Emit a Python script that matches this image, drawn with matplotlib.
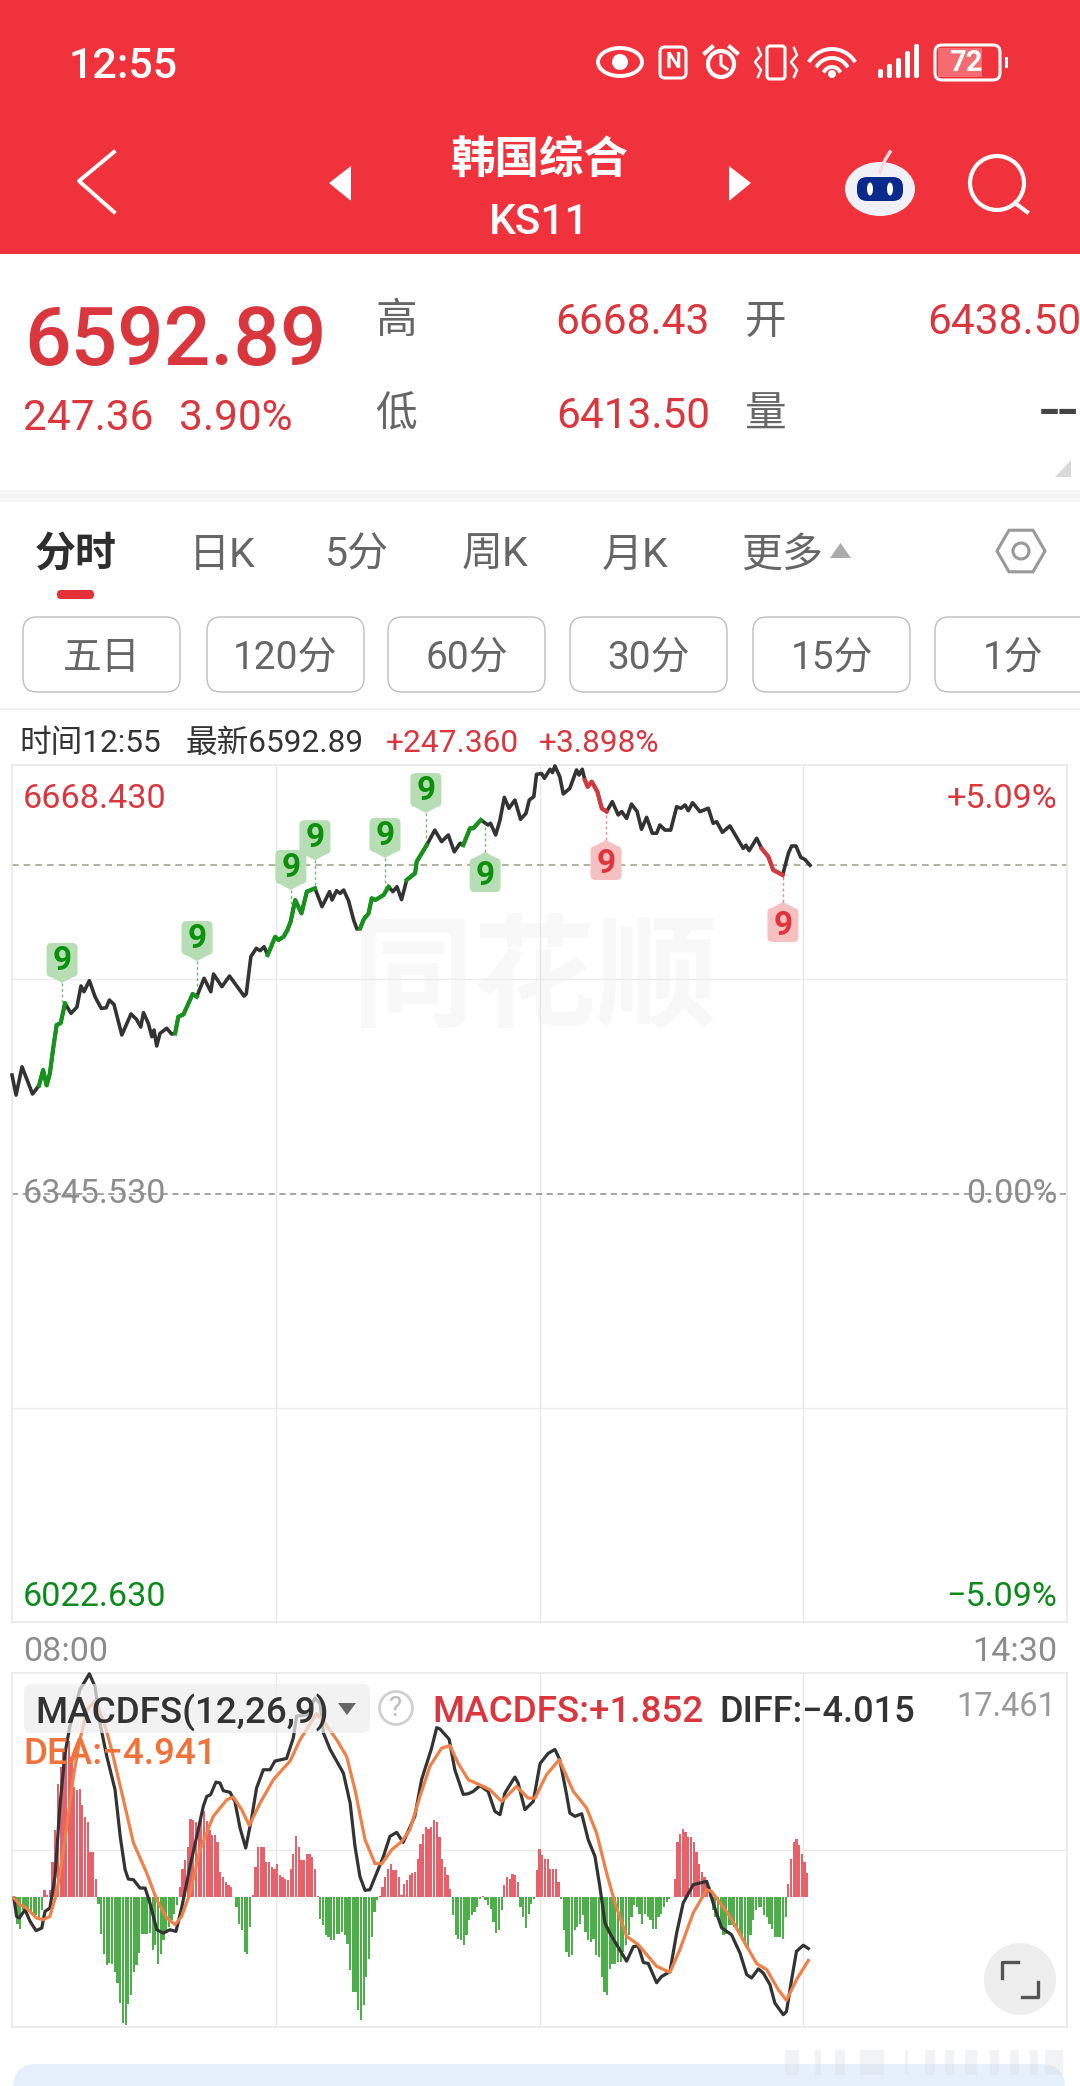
import numpy as np
import matplotlib
matplotlib.use("Agg")
from matplotlib import pyplot as plt
from matplotlib.patches import Circle, Ellipse, FancyBboxPatch, Polygon, Rectangle

plt.rcParams['font.family'] = ['Roboto', 'Noto Sans CJK SC', 'DejaVu Sans']

W, H = 1080, 2086

RED = '#D9363E'
GREEN = '#0A8A1A'
HEADER = '#F0323C'
GRAY_TXT = '#666666'

# limits of the two panes
price_high = 6668.43
price_low = 6022.63
price_base = 6345.53
price_last = 6592.89
macd_top = 17.461
macd_bottom = -10.13

# minutes after 08:00 and index value
price_min = [0, 1.5, 3.7, 7.6, 10, 11.5, 12.8, 14, 15.3, 16.5, 18, 19.6, 21.8, 24, 25.5, 26.6, 28.6, 30.7, 33, 34.8,
             36, 37.7, 40.6, 44, 46, 47.6, 48.6, 50.4, 51.7, 52.5, 53.5, 54.7, 57.2, 59, 60.3, 61.5, 63.4, 66.8, 68.3, 71,
             73.5, 74.5, 77.6, 80.4, 85.8, 86.6, 88.3, 90.3, 91.7, 93.2, 94.5, 97.3, 98.5, 100.4, 101.8, 103, 104.7, 107, 109, 112,
             114.6, 117.4, 118.3, 120, 121.3, 122.6, 124.4, 126.3, 127.5, 128.7, 130, 131.8, 133, 134.3, 137.4, 139.2, 140.8, 142.3, 144, 145.9,
             149, 149.6, 153.3, 156.3, 158.8, 161.3, 163.5, 165.6, 166.8, 169.3, 170.5, 173.3, 176, 176.9, 178.8, 180.4, 182, 183.7, 185.9, 188,
             190, 191.2, 192.9, 193.9, 195.8, 196.8, 198.9, 199.8, 200.7, 202.5, 203.8, 206.2, 208.7, 209.6, 210.8, 211.8, 212.8, 214.3, 216.4, 218,
             219.8, 221.9, 224.1, 225.4, 227.2, 229, 231.1, 232.7, 234.6, 236.7, 238.3, 239.5, 241.4, 243.5, 245.7, 247.3, 248.8, 250, 251.6, 254.3,
             257.4, 259.2, 260.5, 262.6, 265.4, 270.3, 271.3, 272.5, 275.3, 277.1, 279.6, 281.4, 284.9, 287, 288.2, 289.8, 291.6, 293.1, 295]
price_val = [6434.8, 6419.7, 6441, 6420.5, 6427, 6438.6, 6427, 6436, 6456, 6472.5, 6474, 6488.8, 6481.3, 6486, 6501.9, 6497.6, 6505.9, 6493.8, 6485, 6485.5,
             6491.3, 6488, 6465, 6480.8, 6476.8, 6471, 6481.8, 6473.7, 6463.7, 6468.7, 6456.7, 6466.2, 6470, 6465.7, 6466.2, 6478.8, 6480.5, 6495.9, 6493.8, 6507.7,
             6497.6, 6510.9, 6501.4, 6509.4, 6494.3, 6496, 6524, 6530.3, 6528.5, 6531.5, 6525.2, 6539, 6536.6, 6539, 6544, 6550.4, 6566.7, 6556.6, 6573, 6575.5,
             6561.7, 6573, 6566.7, 6573.7, 6571.7, 6574.2, 6566.2, 6551.6, 6544.8, 6545.3, 6552, 6556.6, 6568, 6566.7, 6570.5, 6576.7, 6573, 6576.7, 6567, 6581.8,
             6586.8, 6595.6, 6608, 6619.4, 6610.7, 6615.7, 6603, 6609.4, 6608, 6620.7, 6620.7, 6627, 6623.2, 6624.5, 6615.7, 6627, 6644, 6635.8, 6642, 6627.5,
             6632, 6642, 6644.6, 6661.4, 6662, 6658.4, 6665.2, 6662.7, 6667.7, 6659.6, 6646.6, 6650.8, 6664.7, 6660.9, 6665.2, 6657, 6652, 6655.9, 6648.3, 6635.8,
             6633.3, 6640.8, 6630.8, 6633.3, 6628.2, 6639, 6633.3, 6620, 6629, 6617, 6617, 6623.2, 6619.4, 6619.4, 6637, 6635.8, 6638.3, 6634, 6640, 6633.3,
             6635.8, 6624.5, 6625.7, 6617.7, 6622.5, 6605.6, 6608, 6603.9, 6613.2, 6605.6, 6599.3, 6589.3, 6585.5, 6601.9, 6607.4, 6607.4, 6598.8, 6597.3, 6592.89]

# stretches of the line drawn in colour (start minute, end minute)
green_runs = [(10, 19.6), (60.3, 68.3), (94.5, 112), (128.7, 139.2), (145.9, 153.3), (166.8, 173.3)]
red_runs = [(211.8, 219.8), (277.1, 284.9)]

# the "9" signals: minute on the line, price level where the badge sits
buy_min = [18.5, 68.4, 103.1, 112, 137.9, 153, 174.9]
buy_lvl = [6521.5, 6538, 6591.6, 6614, 6615.7, 6649.6, 6585.5]
sell_min = [219.6, 285]
sell_lvl = [6594.6, 6547.9]

macd_hist = [0, -0.26, -2.13, -2.47, -1.04, -0.91, -0.91, -1.17, -1.30, -1.43,
             -1.69, -1.04, 0.57, 0.13, 0.57, 2.73, 5.19, 8.83, 10.13, 11.30,
             11.95, 12.13, 10.91, 8.57, 8.31, 8.44, 7.14, 6.23, 5.84, 3.51,
             3.51, 1.43, -0.52, -2.91, -4.42, -5.32, -5.12, -5.19, -5.84, -6.70,
             -8.26, -9.82, -10.0, -8.31, -7.66, -5.84, -5.32, -4.36, -2.86, -2.86,
             -2.86, -2.81, -4.16, -3.77, -5.19, -4.42, -3.38, -2.60, -2.34, -1.82,
             -1.30, -0.65, 0.78, 2.21, 2.86, 3.90, 6.10, 5.97, 5.84, 5.84,
             6.23, 6.70, 5.92, 5.19, 4.81, 4.81, 4.29, 1.95, 1.56, 1.17,
             0.91, 0.78, 0, -0.78, -2.08, -2.60, -4.29, -4.47, -2.34, 0.13,
             2.34, 3.90, 3.90, 3.90, 2.73, 2.73, 2.34, 2.21, 2.60, 1.69,
             1.56, 1.43, 1.30, 2.21, 3.38, 4.73, 3.90, 2.86, 2.91, 3.38,
             3.32, 3.12, 2.21, 0.08, -1.69, -2.21, -2.99, -3.12, -3.38, -3.32,
             -2.86, -2.86, -2.73, -2.99, -3.64, -5.66, -7.40, -7.40, -8.83, -9.56,
             -8.44, -6.23, -4.81, -3.12, -1.17, -0.21, 0.08, 0.78, 1.56, 2.21,
             2.60, 2.08, 2.08, 1.56, 0.13, 1.04, 1.30, 1.69, 1.87, 1.95,
             2.99, 4.16, 4.94, 5.45, 5.32, 5.45, 5.97, 5.84, 4.68, 2.99,
             2.34, 1.69, 0.65, -1.43, -2.99, -3.25, -3.38, -3.77, -2.99, -1.82,
             -1.43, -1.17, -0.78, -0.13, 0.05, -0.26, -0.65, -0.91, -1.95, -2.81,
             -2.60, -1.04, 0.91, 1.56, 1.43, 1.82, 1.69, 1.17, -0.78, -1.56,
             -2.39, -1.30, -0.52, -0.13, 2.08, 3.77, 3.25, 2.99, 2.99, 2.21,
             2.21, 2.21, 1.17, -0.13, -2.60, -4.29, -4.68, -4.55, -2.60, -2.34,
             -2.08, -1.43, -2.73, -3.38, -3.51, -3.25, -4.55, -4.68, -6.23, -7.40,
             -7.66, -5.58, -5.19, -5.19, -5.06, -5.06, -4.29, -3.77, -2.99, -1.56,
             -0.65, -0.78, -1.30, -2.08, -1.30, -1.56, -1.82, -2.47, -2.47, -1.56,
             -1.30, -0.78, -0.39, -0.13, 0, 1.43, 4.29, 4.94, 5.32, 5.06,
             4.68, 4.68, 4.29, 3.51, 2.60, 1.95, 1.56, 1.30, 0.78, -1.04,
             -1.56, -1.82, -2.34, -2.99, -2.86, -2.21, -2.21, -2.34, -2.47, -2.73,
             -3.12, -3.51, -3.90, -2.99, -1.82, -1.04, -0.78, -0.78, -1.43, -1.56,
             -2.08, -2.47, -3.12, -3.12, -3.12, -3.25, -1.56, 1.04, 2.99, 4.29,
             4.55, 4.03, 3.38, 2.73, 1.85]

diff_min = [0.7, 1.7, 2.7, 4.8, 6.7, 8.9, 11, 12.2, 14, 15.9, 17.7, 19.6, 21.4, 25.1, 28.6, 30.7, 32.5, 35, 38.1, 40,
            41.8, 43, 44.9, 47.3, 49.2, 51, 53.5, 55.9, 58.4, 60.6, 62.7, 65.8, 68.3, 70.7, 72, 73.4, 75.4, 76.9, 78.1, 80.6,
            82.4, 84.3, 86.4, 88.6, 90.4, 92.9, 95.4, 97.2, 101.5, 104, 105.2, 108.9, 112, 113.9, 115.1, 117.6, 122.5, 125, 126.8, 128.6,
            130.5, 132.3, 134.8, 137.3, 139.7, 142.2, 144.6, 148.9, 151.4, 153.3, 155.1, 157, 158.2, 161.6, 163.7, 166.8, 168.7, 170.5, 173, 176,
            178.5, 180.4, 182.2, 185.9, 187.1, 189.6, 192.7, 195.2, 198.2, 200.7, 202.5, 205, 206.2, 208.1, 210.6, 213, 215.5, 217.3, 219.2, 221,
            223.5, 227.2, 229.7, 231.5, 233.4, 235.2, 238.3, 240.1, 243.2, 245.7, 248.1, 251.8, 256.8, 259.2, 262.3, 266, 269.1, 271.6, 273.4, 275.9,
            277.7, 280.2, 282, 285.1, 286.3, 288.2, 290, 292.5, 294.4]
diff_val = [-0.08, -1.51, -1.64, -0.99, -1.90, -2.62, -2.42, -1.12, -0.86, 1.61, 7.06, 11.2, 13.3, 16.16, 17.4, 16.4, 13.56, 11.0, 8.36, 4.73,
            2.13, 1.40, 1.35, 0.70, 0.70, -0.47, -2.55, -2.81, -2.55, -2.68, -0.86, 2.39, 4.73, 7.06, 7.84, 7.97, 8.96, 8.88, 8.29, 8.16,
            7.45, 5.38, 3.82, 6.16, 8.49, 9.92, 9.92, 10.6, 10.8, 12.4, 14.1, 14.2, 15.5, 15.1, 12.8, 11.5, 9.66, 7.32, 3.95, 1.61,
            0.52, 0.57, 1.87, 3.16, 4.73, 5.04, 4.26, 6.29, 9.14, 10.4, 11.6, 13.2, 13.1, 12.3, 9.92, 8.0, 8.05, 8.23, 8.68, 8.23,
            6.68, 6.42, 8.1, 9.35, 8.88, 6.81, 7.45, 10.4, 11.2, 11.5, 10.7, 8.0, 6.55, 6.29, 6.49, 4.47, 3.17, 0.83, -2.03, -2.81,
            -3.71, -5.0, -3.86, -3.81, -5.1, -5.18, -6.68, -6.2, -5.82, -2.81, -0.47, 0.96, 1.22, -0.47, -2.4, -2.94, -4.36, -6.05, -6.31, -5.6,
            -5.92, -6.83, -8.26, -9.17, -8.92, -6.44, -4.23, -3.76, -4.015]

dea_min = [0.7, 3, 5.4, 9.1, 11.6, 14, 16.5, 19.6, 22.7, 25.1, 27.8, 30.7, 33.8, 36.8, 41.2, 44.9, 49.8, 53.5, 57.2, 60.3,
           62.7, 65.8, 69.5, 74.4, 79.4, 81.8, 84.9, 87.7, 91.7, 96.6, 102.8, 106.5, 112.6, 115.7, 120, 123.7, 126.8, 130.5, 134.2, 136.7,
           140.4, 144.1, 147.1, 150.8, 154.5, 158.8, 161.9, 165, 168.7, 173.6, 176.7, 181, 186.5, 190.8, 193.3, 197.6, 202.3, 207.5, 212.4, 216.1,
           219.8, 222.9, 227.2, 231.5, 238.3, 243.2, 246.9, 251.8, 256.8, 258.6, 265.4, 270.9, 275.3, 279, 283.3, 286.3, 290, 294.4]
dea_val = [-0.08, -0.60, -0.86, -1.64, -1.77, -1.51, 0.31, 4.47, 9.4, 12.26, 14.6, 15.3, 13.8, 11.5, 7.58, 4.21, 1.87, -0.21, -1.64, -2.15,
           -1.51, 0.31, 3.69, 6.29, 7.58, 7.79, 6.81, 5.58, 7.32, 9.14, 10.6, 12.26, 14.3, 13.56, 12.26, 10.96, 8.36, 4.47, 2.6, 2.6,
           3.69, 4.34, 5.25, 7.84, 10.2, 11.6, 11.8, 10.4, 9.14, 8.68, 8.36, 7.45, 8.62, 7.71, 7.71, 9.53, 10.7, 8.23, 6.94, 4.99,
           1.87, -0.47, -3.06, -3.71, -5.4, -5.87, -4.1, -1.25, 0.57, 0.44, -1.51, -3.58, -5.19, -5.66, -7.23, -8.05, -6.44, -4.941]

tab_labels = ['日K', '5分', '周K', '月K', '更多']
tab_x = [222, 357, 495, 635, 782]
period_labels = ['五日', '120分', '60分', '30分', '15分', '1分']
period_left = [23, 207, 388, 570, 753, 935]
blur_left = [785, 815, 835, 860, 905, 925, 945, 965, 990, 1010, 1030, 1045]
blur_width = [14, 6, 10, 24, 3, 10, 9, 12, 9, 9, 8, 18]


def put(ax, x, y, s, **kw):
    # va=center sits a little high with these fonts, so push it down
    kw.setdefault('va', 'center')
    return ax.text(x, y + 4, s, **kw)


def add_pane(fig, left, top, right, bottom):
    ax = fig.add_axes([left / W, 1 - bottom / H, (right - left) / W, (bottom - top) / H])
    ax.patch.set_alpha(0)
    ax.set_xlim(0, 390)
    ax.set_xticks([])
    ax.set_yticks([])
    for s in ax.spines.values():
        s.set_color('#E9E9E9')
        s.set_linewidth(1.2)
    for t in [97.5, 195, 292.5]:
        ax.axvline(t, color='#E6E6E6', lw=1.0, zorder=1)
    return ax


def rounded(ax, x0, y0, x1, y1, r, **kw):
    ax.add_patch(FancyBboxPatch((x0 + r, y0 + r), x1 - x0 - 2 * r, y1 - y0 - 2 * r,
                                boxstyle=f"round,pad={r},rounding_size={r}", **kw))


def draw_status_icons(ax):
    # eye
    ax.add_patch(Ellipse((620, 62), 44, 28, fc='none', ec='white', lw=2.8))
    ax.add_patch(Circle((620, 62), 8, fc='white', ec='none'))
    # nfc
    rounded(ax, 660, 47, 686, 78, 5, fc='none', ec='white', lw=2.2)
    put(ax, 673, 58, 'N', color='white', fontsize=16, fontweight='bold', ha='center')
    # alarm
    ax.add_patch(Circle((721, 64), 13, fc='none', ec='white', lw=3))
    ax.plot([721, 721, 727], [56, 65, 69], color='white', lw=2.2)
    ax.plot([705, 712], [53, 47], color='white', lw=3)
    ax.plot([730, 737], [47, 53], color='white', lw=3)
    # vibrate
    rounded(ax, 767, 46, 785, 79, 3, fc='none', ec='white', lw=2.2)
    for x in [758, 794]:
        ax.plot([x, x + 3, x - 3, x + 3, x], [48, 55, 62, 70, 77], color='white', lw=1.8)
    # wifi
    th = np.radians(np.linspace(215, 325, 30))
    for r in [9, 18, 27]:
        ax.plot(832 + r * np.cos(th), 76 + r * np.sin(th), color='white', lw=2.8)
    ax.add_patch(Circle((832, 74), 4, fc='white', ec='none'))
    # signal
    for i, h in enumerate([9, 14, 20, 27, 34]):
        rounded(ax, 878 + i * 9, 78 - h, 883 + i * 9, 78, 2, fc='white', ec='none')
    # battery
    rounded(ax, 935, 45, 1000, 80, 7, fc='none', ec='white', lw=2.2)
    ax.add_patch(Rectangle((938, 48), 44, 29, fc='white', alpha=0.28, ec='none'))
    ax.add_patch(Rectangle((1005, 57), 2.5, 11, fc='white', ec='none'))
    put(ax, 966, 59, '72', color='white', fontsize=21, fontweight='bold', ha='center')


def draw_chrome(ax):
    ax.add_patch(Rectangle((0, 0), W, 254, fc=HEADER, ec='none'))
    put(ax, 69, 63, '12:55', color='white', fontsize=31, fontweight='medium')
    draw_status_icons(ax)

    ax.plot([114, 79, 114], [152, 181, 212], color='white', lw=2.8)
    ax.add_patch(Polygon([(329, 183), (351, 166), (351, 201)], fc='white', ec='none'))
    ax.add_patch(Polygon([(751, 183), (729, 166), (729, 201)], fc='white', ec='none'))
    put(ax, 539, 157, '韩国综合', color='white', fontsize=32, fontweight='bold', ha='center')
    put(ax, 539, 218, 'KS11', color='white', fontsize=30.5, fontweight='medium', ha='center')

    # robot
    ax.plot([880, 885, 890], [172, 160, 152], color='#F6D9DC', lw=2.5)
    ax.add_patch(Ellipse((880, 189), 70, 54, fc='#F0F1F6', ec='none'))
    rounded(ax, 857, 177, 903, 201, 10, fc='#0A2A8C', ec='none')
    ax.add_patch(Ellipse((870, 189), 6, 13, fc='white', ec='none'))
    ax.add_patch(Ellipse((890, 189), 6, 13, fc='white', ec='none'))
    # search
    ax.add_patch(Circle((997, 183), 27, fc='none', ec='white', lw=3))
    ax.plot([1015, 1027], [203, 212], color='white', lw=3)

    # quote block
    put(ax, 24, 339, '6592.89', color=RED, fontsize=59, fontweight='medium')
    put(ax, 23, 415, '247.36', color=RED, fontsize=30.5)
    put(ax, 179, 415, '3.90%', color=RED, fontsize=30.5)
    put(ax, 396, 318, '高', color=GRAY_TXT, fontsize=30, ha='center')
    put(ax, 396, 411, '低', color=GRAY_TXT, fontsize=30, ha='center')
    put(ax, 766, 318, '开', color=GRAY_TXT, fontsize=30, ha='center')
    put(ax, 766, 411, '量', color=GRAY_TXT, fontsize=30, ha='center')
    put(ax, 710, 318, '6668.43', color=RED, fontsize=30.5, ha='right')
    put(ax, 710, 413, '6413.50', color=RED, fontsize=30.5, ha='right')
    put(ax, 1081, 318, '6438.50', color=RED, fontsize=30.5, ha='right')
    put(ax, 1078, 409, '--', color='#444444', fontsize=50, ha='right')
    ax.add_patch(Polygon([(1071, 460), (1071, 477), (1055, 477)], fc='#D9D9D9', ec='none'))
    ax.add_patch(Rectangle((0, 490), W, 12, fc='#F5F5F5', ec='none'))

    # tabs
    put(ax, 76, 551, '分时', color='#2E2E2E', fontsize=29.5, fontweight='bold', ha='center')
    for lab, x in zip(tab_labels, tab_x):
        put(ax, x, 551, lab, color=GRAY_TXT, fontsize=29.5, ha='center')
    ax.add_patch(Polygon([(830, 558), (851, 558), (840.5, 543)], fc='#ABABAB', ec='none'))
    hex_th = np.radians(np.arange(0, 360, 60))
    ax.add_patch(Polygon(np.c_[1021 + 24 * np.cos(hex_th), 551 + 24 * np.sin(hex_th)], fc='none', ec='#999999', lw=2.2))
    ax.add_patch(Circle((1021, 551), 8, fc='none', ec='#999999', lw=2.2))
    rounded(ax, 57, 590, 94, 599, 4, fc='#E53238', ec='none')
    for lab, x in zip(period_labels, period_left):
        rounded(ax, x, 617, x + 157, 692, 14, fc='white', ec='#BDBDBD', lw=1.0)
        put(ax, x + 78.5, 654, lab, color=GRAY_TXT, fontsize=28, ha='center')
    ax.add_patch(Rectangle((0, 708), W, 2, fc='#EEEEEE', ec='none'))

    # info line
    put(ax, 19, 739, '时间12:55', color='#333333', fontsize=22.8)
    put(ax, 186, 739, '最新6592.89', color='#333333', fontsize=22.8)
    put(ax, 386, 739, '+247.360', color=RED, fontsize=22.8)
    put(ax, 539, 739, '+3.898%', color=RED, fontsize=22.8)

    put(ax, 535, 980, '同花顺', color='#F8F8F8', fontsize=88, fontweight='bold', ha='center')

    # bottom panel
    rounded(ax, 13, 2064, 1065, 2130, 24, fc='#E6F0FB', ec='none')
    for x, w in zip(blur_left, blur_width):
        ax.add_patch(Rectangle((x, 2050), w, 25, fc='#D5D9DE', alpha=0.3, ec='none'))


def draw_pane_labels(ax):
    put(ax, 23, 795, '6668.430', color=RED, fontsize=24.6)
    put(ax, 1057, 795, '+5.09%', color=RED, fontsize=24.6, ha='right')
    put(ax, 23, 1190, '6345.530', color='#8C8C8C', fontsize=24.6)
    put(ax, 1057, 1190, '0.00%', color='#8C8C8C', fontsize=24.6, ha='right')
    put(ax, 23, 1593, '6022.630', color=GREEN, fontsize=24.6)
    put(ax, 1057, 1593, '−5.09%', color=GREEN, fontsize=24.6, ha='right')
    put(ax, 23, 1648, '08:00', color='#8C8C8C', fontsize=24.6)
    put(ax, 1057, 1648, '14:30', color='#8C8C8C', fontsize=24.6, ha='right')


def draw_macd_labels(ax):
    rounded(ax, 24, 1684, 370, 1733, 8, fc='#EEEEEE', alpha=0.72, ec='none')
    put(ax, 35, 1709, 'MACDFS(12,26,9)', color='#333333', fontsize=26.5, fontweight='medium')
    ax.add_patch(Polygon([(338, 1703), (356, 1703), (347, 1715)], fc='#666666', ec='none'))
    ax.add_patch(Circle((396, 1708), 16.5, fc='white', ec='#CFCFCF', lw=2))
    put(ax, 396, 1705, '?', color='#BDBDBD', fontsize=20, ha='center')
    put(ax, 432, 1709, 'MACDFS:+1.852', color=RED, fontsize=26.5, fontweight='medium')
    put(ax, 719, 1709, 'DIFF:−4.015', color='#333333', fontsize=26, fontweight='medium')
    put(ax, 23, 1750, 'DEA:−4.941', color='#F0723A', fontsize=26.5, fontweight='medium')
    put(ax, 1056, 1703, '17.461', color='#9A9A9A', fontsize=23.5, ha='right')
    # expand button
    ax.add_patch(Circle((1020, 1979), 36, fc='#EEEEEE', ec='none'))
    ax.plot([1002, 1002, 1018], [1978, 1962, 1962], color='#555555', lw=2.4)
    ax.plot([1022, 1038, 1038], [1997, 1997, 1982], color='#555555', lw=2.4)


def draw_badge(ax_px, ax_price, minute, level, fc, tc):
    # badge sits at (minute, level) with a dotted stem back to the line
    x, y = ax_price.transData.transform((minute, level))
    py = H - y
    x_line, y_line = ax_price.transData.transform((minute, np.interp(minute, price_min, price_val)))
    y_line = H - y_line
    side = 1 if y_line > py else -1
    ax_px.plot([x, x], [py + side * 23, y_line], color=tc, lw=1.0, ls=(0, (2, 2)), alpha=0.6)
    rounded(ax_px, x - 15.5, py - 17, x + 15.5, py + 17, 5, fc=fc, ec='none')
    ax_px.add_patch(Polygon([(x - 15, py + side * 15), (x + 15, py + side * 15), (x, py + side * 23)], fc=fc, ec='none'))
    put(ax_px, x, py - 3, '9', color=tc, fontsize=24, fontweight='bold', ha='center')


def plot_price(ax):
    ax.set_ylim(price_low, price_high)
    ax.axhline((price_high + price_base) / 2, color='#EBEBEB', lw=1.0, zorder=1)
    ax.axhline((price_low + price_base) / 2, color='#EBEBEB', lw=1.0, zorder=1)
    ax.axhline(price_base, color='#8A8A8A', lw=1.1, ls=(0, (4, 3)), zorder=1)
    ax.axhline(price_last, color='#A3A38F', lw=1.2, ls=(0, (4, 3)), zorder=1)
    m = np.array(price_min)
    p = np.array(price_val)
    ax.plot(m, p, color='#333333', lw=2.6, zorder=3, solid_joinstyle='round', clip_on=False)
    for runs, col in [(green_runs, '#16931A'), (red_runs, '#D5393F')]:
        for a, b in runs:
            mask = (m >= a) & (m <= b)
            ax.plot(m[mask], p[mask], color=col, lw=3.0, zorder=4, solid_joinstyle='round')


def plot_macd(ax):
    ax.set_ylim(macd_bottom, macd_top)
    ax.axhline((macd_top + macd_bottom) / 2, color='#EBEBEB', lw=1.0, zorder=1)
    h = np.array(macd_hist)
    x = np.arange(len(h))
    ax.bar(x[h >= 0], h[h >= 0], width=0.82, color='#E8606A', zorder=2)
    ax.bar(x[h < 0], h[h < 0], width=0.82, color='#4CAF4A', zorder=2)
    ax.plot(diff_min, diff_val, color='#333333', lw=2.3, zorder=3, clip_on=False)
    ax.plot(dea_min, dea_val, color='#EE8048', lw=2.3, zorder=4)


def main():
    fig = plt.figure(figsize=(W / 100, H / 100), dpi=100, facecolor='white')

    ax_bg = fig.add_axes([0, 0, 1, 1], zorder=0)
    ax_bg.set_xlim(0, W)
    ax_bg.set_ylim(H, 0)
    ax_bg.axis('off')
    draw_chrome(ax_bg)

    ax_price = add_pane(fig, 12, 765, 1067, 1622)
    ax_price.set_zorder(1)
    plot_price(ax_price)

    ax_macd = add_pane(fig, 12, 1673, 1067, 2027)
    ax_macd.set_zorder(1)
    plot_macd(ax_macd)

    ax_top = fig.add_axes([0, 0, 1, 1], zorder=2)
    ax_top.set_xlim(0, W)
    ax_top.set_ylim(H, 0)
    ax_top.axis('off')
    ax_top.patch.set_alpha(0)
    draw_pane_labels(ax_top)
    draw_macd_labels(ax_top)
    for minute, level in zip(buy_min, buy_lvl):
        draw_badge(ax_top, ax_price, minute, level, '#B7DDB5', '#0A900A')
    for minute, level in zip(sell_min, sell_lvl):
        draw_badge(ax_top, ax_price, minute, level, '#F6BFC0', '#E0343C')

    fig.savefig('out.png', dpi=100)


if __name__ == "__main__":
    main()
